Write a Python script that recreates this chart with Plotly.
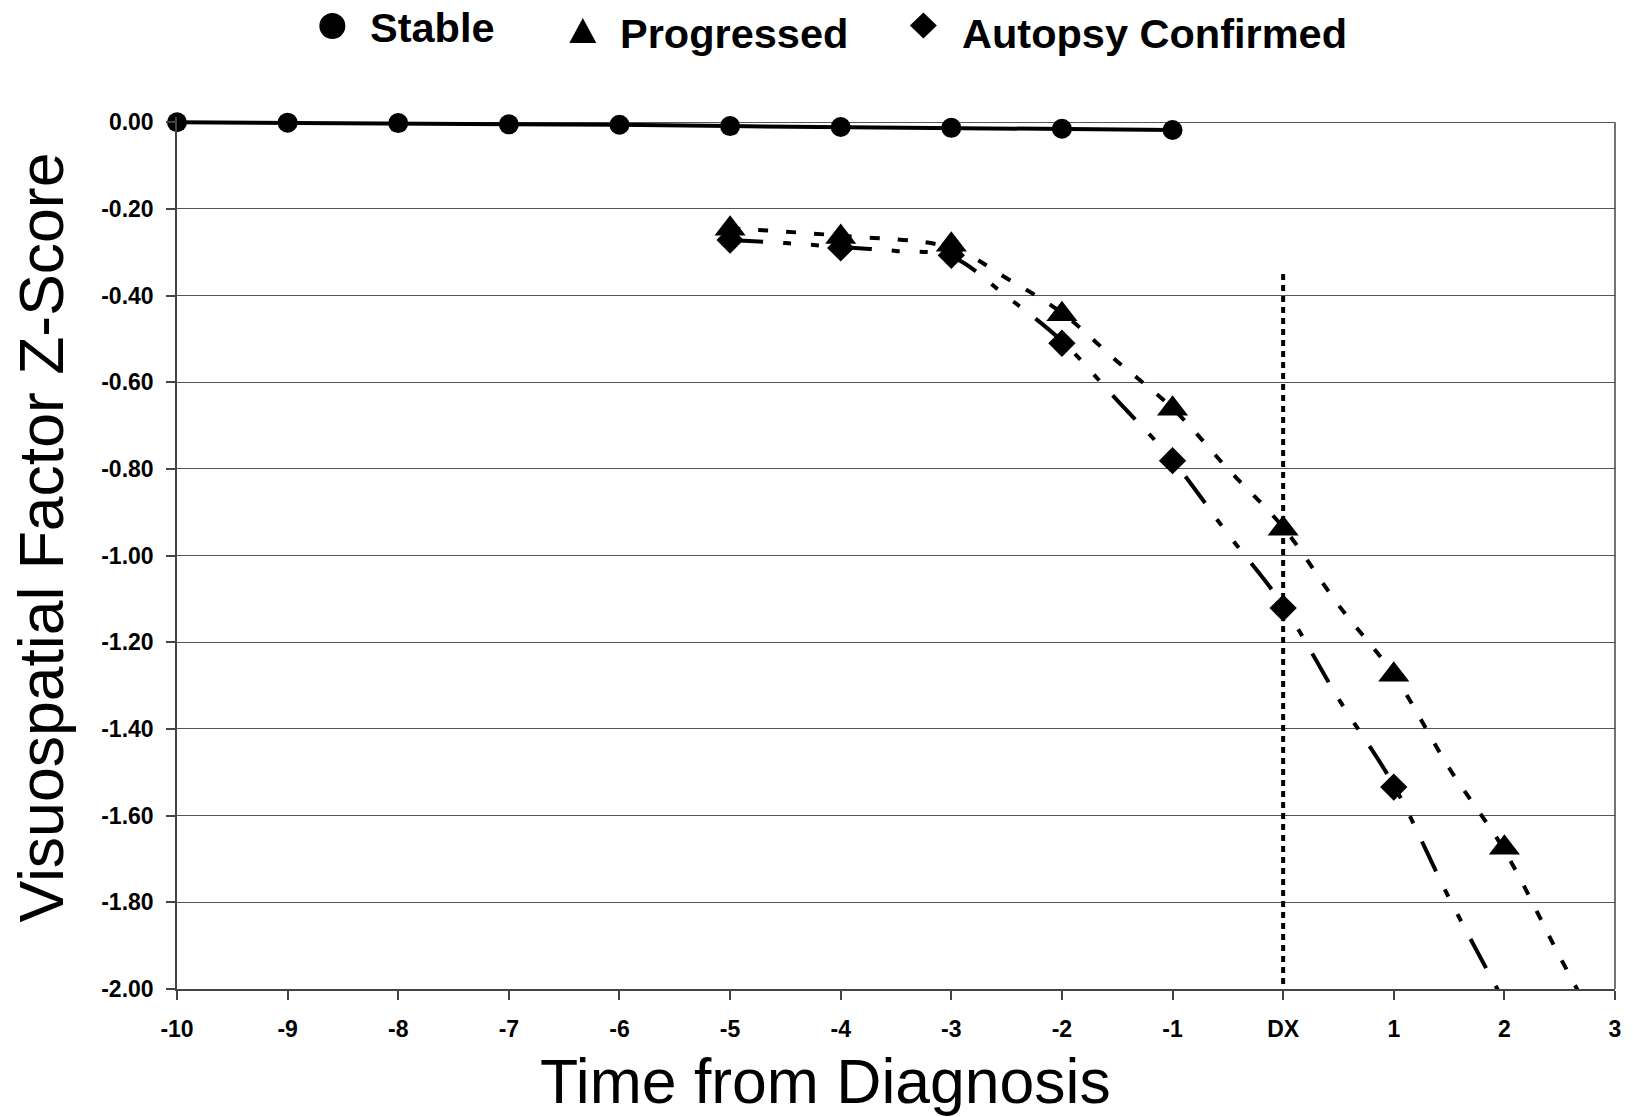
import plotly.graph_objects as go

# ---------------- data ----------------
stable_years = [-10, -9, -8, -7, -6, -5, -4, -3, -2, -1]
stable_z = [0.000, -0.001, -0.002, -0.005, -0.006, -0.009, -0.011, -0.013, -0.015, -0.018]

prog_years = [-5, -4, -3, -2, -1, 0, 1, 2]
prog_z = [-0.246, -0.265, -0.283, -0.443, -0.661, -0.938, -1.275, -1.674]

auto_years = [-5, -4, -3, -2, -1, 0, 1]
auto_z = [-0.272, -0.290, -0.307, -0.510, -0.781, -1.121, -1.534]

# fitted curves as drawn in the reference
prog_trend_x = [-5, -4, -3, -2.5, -2, -1.5, -1, -0.5, 0, 0.5, 1, 1.5, 2, 2.5, 2.8]
prog_trend_y = [-0.245, -0.262, -0.29, -0.36, -0.44, -0.552, -0.66, -0.80, -0.935,
                -1.114, -1.275, -1.49, -1.68, -1.925, -2.068]

auto_trend_x = [-5, -4.5, -4, -3.5, -3, -2.5, -2, -1.5, -1, -0.5, 0, 0.5, 1, 1.5, 2]
auto_trend_y = [-0.272, -0.279, -0.288, -0.297, -0.31, -0.402, -0.505, -0.642, -0.78,
                -0.95, -1.115, -1.33, -1.53, -1.79, -2.03]

dx_line_x = [0, 0]
dx_line_y = [-0.35, -2.0]

x_tick_vals = [-10, -9, -8, -7, -6, -5, -4, -3, -2, -1, 0, 1, 2, 3]
x_tick_text = ["-10", "-9", "-8", "-7", "-6", "-5", "-4", "-3", "-2", "-1", "DX", "1", "2", "3"]
y_tick_vals = [0.0, -0.2, -0.4, -0.6, -0.8, -1.0, -1.2, -1.4, -1.6, -1.8, -2.0]
y_tick_text = ["0.00", "-0.20", "-0.40", "-0.60", "-0.80", "-1.00", "-1.20", "-1.40",
               "-1.60", "-1.80", "-2.00"]

legend_names = ["Stable", "Progressed", "Autopsy Confirmed"]

# ---------------- layout geometry ----------------
W, H = 1633, 1117
ML, MR, MT, MB = 177, 12, 117, 128
PW = W - ML - MR
PH = H - MT - MB
FONT = "Liberation Sans, Arial, sans-serif"


def px_x(px):
    return (px - ML) / PW


def px_y(py):
    return (H - MB - py) / PH


fig = go.Figure()

# fitted curves (behind markers)
fig.add_trace(go.Scatter(
    x=prog_trend_x, y=prog_trend_y, mode="lines", line_shape="spline",
    line=dict(color="black", width=4, dash="10px,18px"),
    showlegend=False, hoverinfo="skip"))
fig.add_trace(go.Scatter(
    x=auto_trend_x, y=auto_trend_y, mode="lines", line_shape="spline",
    line=dict(color="black", width=4, dash="33px,20px,8px,20px,8px,20px"),
    showlegend=False, hoverinfo="skip"))
# diagnosis reference line
fig.add_trace(go.Scatter(
    x=dx_line_x, y=dx_line_y, mode="lines",
    line=dict(color="black", width=4, dash="6px,5px"),
    showlegend=False, hoverinfo="skip"))

# data series
fig.add_trace(go.Scatter(
    x=stable_years, y=stable_z, mode="lines+markers", name=legend_names[0],
    line=dict(color="black", width=4),
    marker=dict(symbol="circle", size=20, color="black"),
    cliponaxis=False, showlegend=False))
fig.add_trace(go.Scatter(
    x=prog_years, y=prog_z, mode="markers", name=legend_names[1],
    marker=dict(symbol="triangle-up", size=27, color="black"),
    cliponaxis=False, showlegend=False))
fig.add_trace(go.Scatter(
    x=auto_years, y=auto_z, mode="markers", name=legend_names[2],
    marker=dict(symbol="diamond", size=21, color="black"),
    cliponaxis=False, showlegend=False))

# ---------------- custom legend (glyphs + labels) ----------------
shapes = []
shapes.append(dict(type="circle", xref="paper", yref="paper",
                   xsizemode="pixel", ysizemode="pixel",
                   xanchor=px_x(333), yanchor=px_y(26),
                   x0=-13, x1=13, y0=-13, y1=13,
                   fillcolor="black", line=dict(width=0)))
shapes.append(dict(type="path", xref="paper", yref="paper",
                   xsizemode="pixel", ysizemode="pixel",
                   xanchor=px_x(584.5), yanchor=px_y(30.5),
                   path="M -13.5,-12.5 L 13.5,-12.5 L 0,12.5 Z",
                   fillcolor="black", line=dict(width=0)))
shapes.append(dict(type="path", xref="paper", yref="paper",
                   xsizemode="pixel", ysizemode="pixel",
                   xanchor=px_x(926.5), yanchor=px_y(25.5),
                   path="M 0,13 L 13.5,0 L 0,-13 L -13.5,0 Z",
                   fillcolor="black", line=dict(width=0)))
# right border of plot area
shapes.append(dict(type="line", xref="paper", yref="y", x0=1, x1=1, y0=-2.0, y1=0.0,
                   line=dict(color="#444444", width=1.5)))

annotations = []
legend_pos = [(369, 27), (620, 34), (963, 34)]
for name, (lx, ly) in zip(legend_names, legend_pos):
    annotations.append(dict(text=name, xref="paper", yref="paper",
                            x=px_x(lx), y=px_y(ly), xanchor="left", yanchor="middle",
                            showarrow=False,
                            font=dict(family=FONT, size=41.5, color="black", weight="bold")))
# axis titles
annotations.append(dict(text="Time from Diagnosis", xref="paper", yref="paper",
                        x=px_x(828), y=px_y(1081), xanchor="center", yanchor="middle",
                        showarrow=False, font=dict(family=FONT, size=62.5, color="black")))
annotations.append(dict(text="Visuospatial Factor Z-Score", xref="paper", yref="paper",
                        x=px_x(40), y=px_y(538), xanchor="center", yanchor="middle",
                        textangle=-90, showarrow=False,
                        font=dict(family=FONT, size=62.5, color="black")))

fig.update_layout(
    width=W, height=H,
    margin=dict(l=ML, r=MR, t=MT, b=MB, pad=0),
    paper_bgcolor="white", plot_bgcolor="white",
    showlegend=False,
    shapes=shapes, annotations=annotations,
    xaxis=dict(range=[-10, 3], tickmode="array", tickvals=x_tick_vals, ticktext=x_tick_text,
               showgrid=False, zeroline=False, showline=True, linecolor="#444444", linewidth=1.5,
               ticks="outside", ticklen=9, tickwidth=1.5, tickcolor="#444444",
               ticklabelstandoff=10,
               tickfont=dict(family=FONT, size=23, color="black", weight="bold")),
    yaxis=dict(range=[-2.0, 0.012], tickmode="array", tickvals=y_tick_vals, ticktext=y_tick_text,
               showgrid=True, gridcolor="#555555", gridwidth=1.3, zeroline=False,
               showline=True, linecolor="#444444", linewidth=1.5,
               ticks="outside", ticklen=9, tickwidth=1.5, tickcolor="#444444",
               ticklabelstandoff=8,
               tickfont=dict(family=FONT, size=23, color="black", weight="bold")),
)

fig.write_html("out.html")
